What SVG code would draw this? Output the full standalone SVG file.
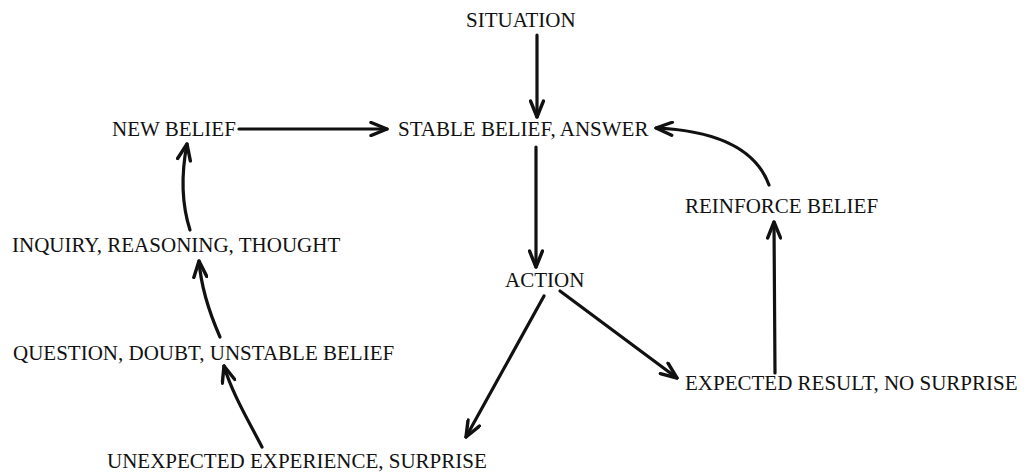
<svg xmlns="http://www.w3.org/2000/svg" width="1027" height="472" viewBox="0 0 1027 472">
  <style>
    .lbl { font-family: "Liberation Serif", "Times New Roman", serif; font-size: 21px; fill: #111; }
    .edge { fill: none; stroke: #111; stroke-width: 3.2; stroke-linecap: round; marker-end: url(#head); }
  </style>
  <defs>
    <!-- open V arrowhead, drawn with thick barbs -->
    <marker id="head" markerUnits="userSpaceOnUse" viewBox="0 0 20 16" markerWidth="20" markerHeight="16" refX="18" refY="8" orient="auto">
      <path d="M2,1.5 L18,8 L2,14.5" fill="none" stroke="#111" stroke-width="3.4" stroke-linecap="round" stroke-linejoin="round"/>
    </marker>
  </defs>
  <rect width="1027" height="472" fill="#fff"/>

  <g id="connectors">
    <path id="e-situation-stable" class="edge" d="M537,35 L537,117"/>
    <path id="e-new-stable" class="edge" d="M239,129 L387,129"/>
    <path id="e-stable-action" class="edge" d="M536,147 L536,267"/>
    <path id="e-action-expected" class="edge" d="M560,291 L677,378"/>
    <path id="e-action-unexpected" class="edge" d="M544,296 L466,437"/>
    <path id="e-expected-reinforce" class="edge" d="M775,373 L774,222"/>
    <path id="e-reinforce-stable" class="edge" d="M769,185 C757,152 722,131 656,128"/>
    <path id="e-unexpected-question" class="edge" d="M262,447 C248,420 232,393 224,366"/>
    <path id="e-question-inquiry" class="edge" d="M220,337 C209,312 201,286 199,261"/>
    <path id="e-inquiry-new" class="edge" d="M190,230 C182,205 181,175 187,144"/>
  </g>

  <g id="situation"><text class="lbl" x="466" y="27">SITUATION</text></g>
  <g id="stable-belief"><text class="lbl" x="398" y="136">STABLE BELIEF, ANSWER</text></g>
  <g id="new-belief"><text class="lbl" x="112" y="136">NEW BELIEF</text></g>
  <g id="reinforce-belief"><text class="lbl" x="685" y="213">REINFORCE BELIEF</text></g>
  <g id="inquiry"><text class="lbl" x="12" y="252">INQUIRY, REASONING, THOUGHT</text></g>
  <g id="action"><text class="lbl" x="505" y="287">ACTION</text></g>
  <g id="question"><text class="lbl" x="13" y="360">QUESTION, DOUBT, UNSTABLE BELIEF</text></g>
  <g id="expected-result"><text class="lbl" x="685" y="390">EXPECTED RESULT, NO SURPRISE</text></g>
  <g id="unexpected"><text class="lbl" x="107" y="468">UNEXPECTED EXPERIENCE, SURPRISE</text></g>
</svg>
